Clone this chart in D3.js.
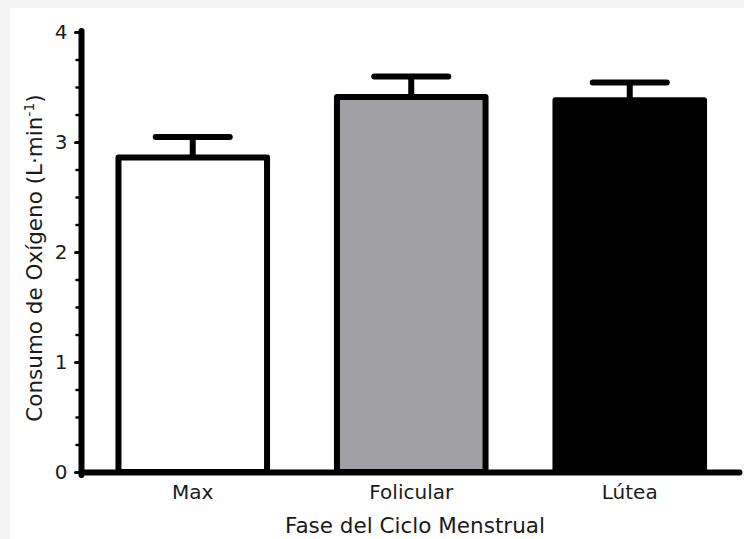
<!DOCTYPE html>
<html>
<head>
<meta charset="utf-8">
<script src="https://cdn.jsdelivr.net/npm/d3@7"></script>
<style>
  body { margin: 0; background: #f3f3f3; }
  svg text { font-family: "DejaVu Sans", Verdana, sans-serif; fill: #1a1a1a; }
</style>
</head>
<body>
<div id="chart"></div>
<script>
// data
const categories = ["Max", "Folicular", "Lútea"];
const means = [2.86, 3.41, 3.38];
const errors = [0.185, 0.185, 0.16];
const yTicks = [0, 1, 2, 3, 4];
const yMinorTicks = d3.range(0, 4.01, 0.25);

const W = 744, H = 539;

const svg = d3.select("#chart")
  .append("svg")
    .attr("width", W)
    .attr("height", H);

// white panel on the light grey page
svg.append("rect")
  .attr("x", 10).attr("y", 8)
  .attr("width", W - 10).attr("height", H - 8)
  .attr("fill", "#fff");

const x = d3.scaleBand()
  .domain(categories)
  .range([83.5, 739])
  .paddingInner(0.32)
  .paddingOuter(0.16);

const y = d3.scaleLinear()
  .domain([0, 4])
  .range([472, 32]);

const color = d3.scaleOrdinal()
  .domain(categories)
  .range(["#ffffff", "#a09fa4", "#000000"]);

const rows = categories.map((c, i) => ({cat: c, mean: means[i], err: errors[i]}));

// bars
svg.append("g")
  .selectAll("rect")
  .data(rows)
  .join("rect")
    .attr("x", d => x(d.cat))
    .attr("y", d => y(d.mean))
    .attr("width", x.bandwidth())
    .attr("height", d => y(0) - y(d.mean))
    .attr("fill", d => color(d.cat))
    .attr("stroke", "#000")
    .attr("stroke-width", 6)
    .attr("stroke-linejoin", "round");

// error bars (upper half only)
const eb = svg.append("g")
  .selectAll("g")
  .data(rows)
  .join("g");
eb.append("line")
  .attr("x1", d => x(d.cat) + x.bandwidth() / 2)
  .attr("x2", d => x(d.cat) + x.bandwidth() / 2)
  .attr("y1", d => y(d.mean))
  .attr("y2", d => y(d.mean + d.err))
  .attr("stroke", "#000")
  .attr("stroke-width", 6);
eb.append("line")
  .attr("x1", d => x(d.cat) + x.bandwidth() / 2 - 37)
  .attr("x2", d => x(d.cat) + x.bandwidth() / 2 + 37)
  .attr("y1", d => y(d.mean + d.err))
  .attr("y2", d => y(d.mean + d.err))
  .attr("stroke", "#000")
  .attr("stroke-width", 6)
  .attr("stroke-linecap", "round");

// y axis: minor ticks (small bumps on the left of the line)
svg.append("g")
  .attr("transform", "translate(81,0)")
  .call(d3.axisLeft(y).tickValues(yMinorTicks).tickSize(4.5).tickFormat(""))
  .call(g => g.select(".domain").remove())
  .call(g => g.selectAll(".tick line").attr("stroke-width", 2.5).attr("stroke-linecap", "round"));

// y axis: major ticks and line
const yAxis = svg.append("g")
  .attr("transform", "translate(81,0)")
  .call(d3.axisLeft(y).tickValues(yTicks).tickSize(5.5).tickSizeOuter(0).tickPadding(8).tickFormat(d3.format("d")));
yAxis.select(".domain")
  .attr("stroke-width", 6)
  .attr("stroke-linecap", "round")
  .attr("d", `M0.5,${y(0) + 3}V${y(4) - 1}`);
yAxis.selectAll(".tick line").attr("stroke-width", 3).attr("stroke-linecap", "round");
yAxis.selectAll(".tick text")
  .attr("font-size", 20)
  .attr("font-family", "DejaVu Sans");

// x axis
const xAxis = svg.append("g")
  .attr("transform", `translate(0,${y(0)})`)
  .call(d3.axisBottom(x).tickSize(0).tickSizeOuter(0).tickPadding(13));
xAxis.select(".domain")
  .attr("stroke-width", 6)
  .attr("stroke-linecap", "round")
  .attr("d", "M81.5,0.5H739.5");
xAxis.selectAll(".tick text")
  .attr("font-size", 20)
  .attr("font-family", "DejaVu Sans");

// axis titles
svg.append("text")
  .attr("x", 415)
  .attr("y", 533)
  .attr("text-anchor", "middle")
  .attr("font-size", 21.5)
  .text("Fase del Ciclo Menstrual");

const yt = svg.append("text")
  .attr("transform", "translate(42,258) rotate(-90)")
  .attr("text-anchor", "middle")
  .attr("font-size", 21.5);
yt.append("tspan").text("Consumo de Oxígeno (L·min");
yt.append("tspan").attr("font-size", 14).attr("dy", -8).text("-1");
yt.append("tspan").attr("dy", 8).text(")");
</script>
</body>
</html>
